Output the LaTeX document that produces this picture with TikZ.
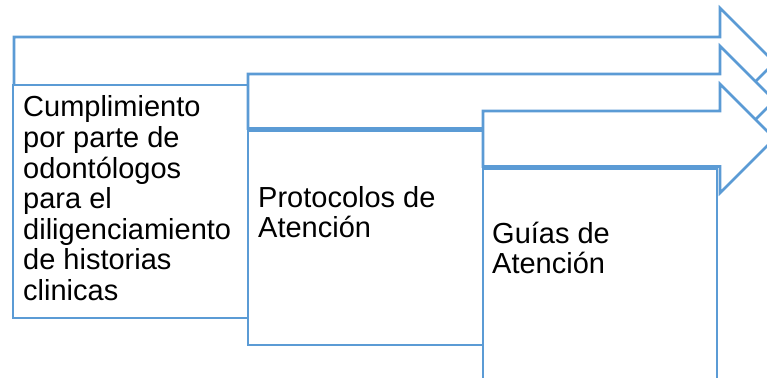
\documentclass[tikz,border=0pt]{standalone}
\usepackage{fontspec}
\setmainfont{Liberation Sans}
\definecolor{sablue}{HTML}{5B9BD5}
\tikzset{
  shapeline/.style={draw=sablue, line width=2.6pt, fill=white, line join=miter},
  blocktext/.style={anchor=base west, inner sep=0pt, font=\fontsize{29pt}{30.5pt}\selectfont}
}
\begin{document}
\begin{tikzpicture}[x=1pt,y=-1pt]
\useasboundingbox (0,0) rectangle (767,377);
\clip (0,0) rectangle (767,377);
% arrow 1
\draw[shapeline] (14,37) -- (720,37) -- (720,8) -- (774.5,62.5) -- (720,117) -- (720,88) -- (14,88) -- cycle;
% box 1
\draw[shapeline] (13,85) rectangle (248,318);
% arrow 2
\draw[shapeline] (248,74) -- (720,74) -- (720,46) -- (774.5,100.5) -- (720,155) -- (720,128.5) -- (248,128.5) -- cycle;
% box 2
\draw[shapeline] (248,130.5) rectangle (483,345);
% arrow 3
\draw[shapeline] (483,111) -- (720,111) -- (720,84) -- (774.5,138.5) -- (720,193) -- (720,166.5) -- (483,166.5) -- cycle;
% box 3
\draw[shapeline] (483,168.5) rectangle (717,400);
% texts
\node[blocktext] (t1) at (23,117) {\parbox[t]{300pt}{\raggedright Cumplimiento\\por parte de\\odontólogos\\para el\\diligenciamiento\\de historias\\clinicas}};
\node[blocktext] (t2) at (258,207) {\parbox[t]{300pt}{\raggedright\baselineskip=30pt Protocolos de\\Atención}};
\node[blocktext] (t3) at (492,243) {\parbox[t]{300pt}{\raggedright\baselineskip=30pt Guías de\\Atención}};
\end{tikzpicture}
\end{document}
